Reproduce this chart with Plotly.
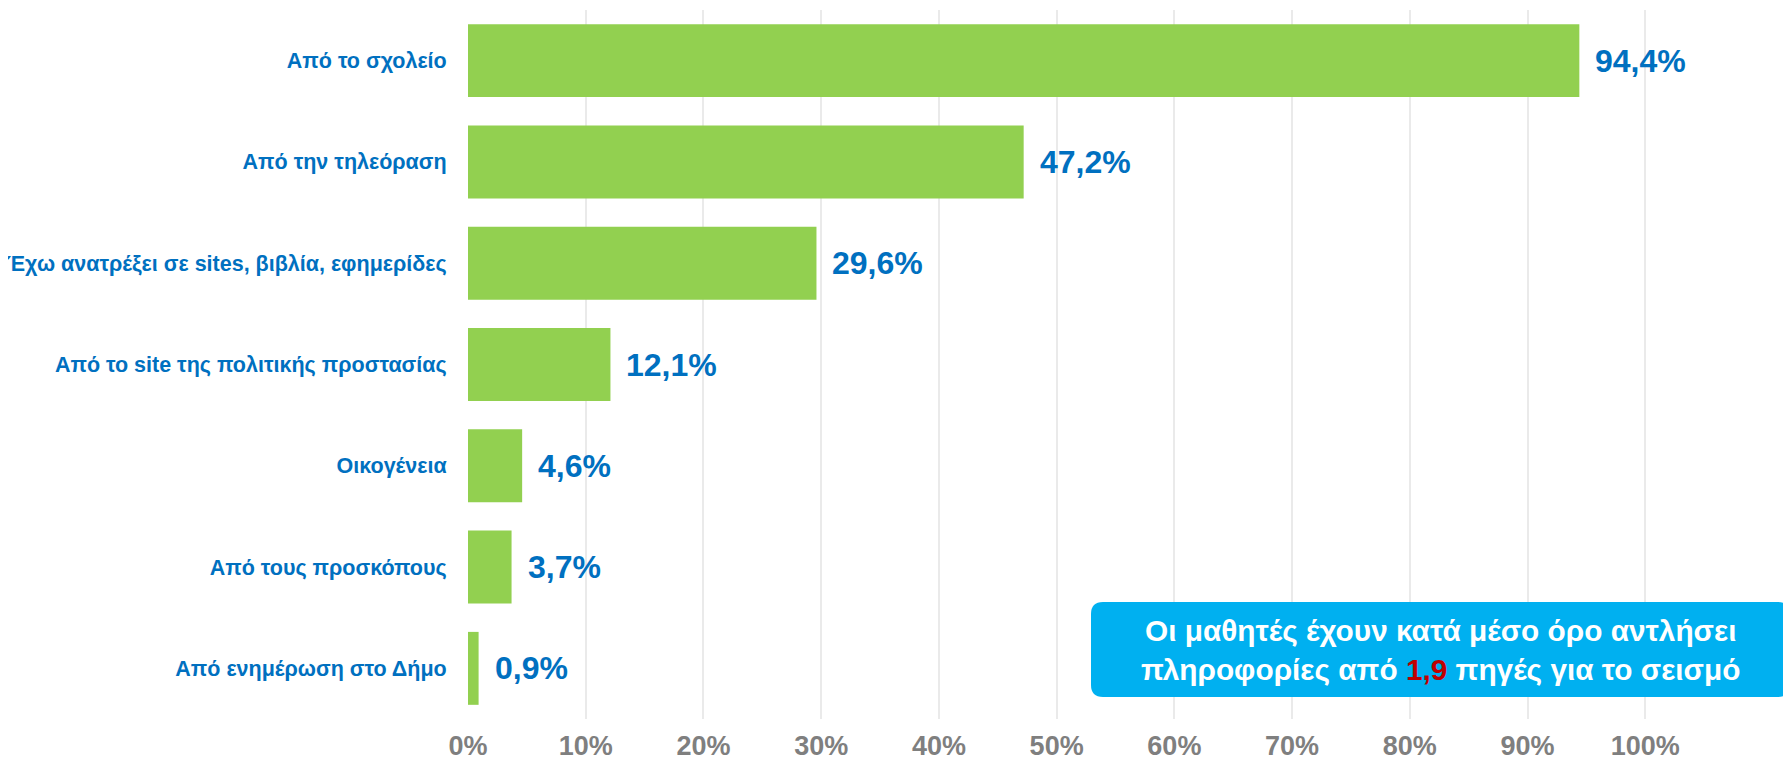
import plotly.graph_objects as go

categories = [
    "Από το σχολείο",
    "Από την τηλεόραση",
    "Έχω ανατρέξει σε sites, βιβλία, εφημερίδες",
    "Από το site της πολιτικής προστασίας",
    "Οικογένεια",
    "Από τους προσκόπους",
    "Από ενημέρωση στο Δήμο",
]
values = [94.4, 47.2, 29.6, 12.1, 4.6, 3.7, 0.9]
tick_vals = [0, 0.1, 0.2, 0.3, 0.4, 0.5, 0.6, 0.7, 0.8, 0.9, 1.0]
tick_text = ["0%", "10%", "20%", "30%", "40%", "50%", "60%", "70%", "80%", "90%", "100%"]
note_text = ("Οι μαθητές έχουν κατά μέσο όρο αντλήσει<br>πληροφορίες από "
             "<span style='color:#C00000'>1,9</span> πηγές για το σεισμό")

BLUE = "#0070C0"
GREEN = "#92D050"
FONT = "Liberation Sans, Arial, sans-serif"

# page body has an 8px margin, so the figure is offset by 8px
OFF = 8
W, H = 1791 - OFF, 762 - OFF
ML, MR, MT, MB = 460, 28, 2, 43

fig = go.Figure()
fig.add_trace(go.Bar(
    x=[v / 100 for v in values],
    y=categories,
    orientation="h",
    marker=dict(color=GREEN, line=dict(width=0)),
    width=0.72,
    hoverinfo="x+y",
))

for c, v in zip(categories, values):
    fig.add_annotation(
        x=v / 100, y=c, xref="x", yref="y",
        text=f"{v:.1f}".replace(".", ",") + "%",
        showarrow=False, xanchor="left", yanchor="middle", xshift=14,
        font=dict(family=FONT, size=32, color=BLUE, weight="bold"),
    )

# rounded callout box (figure pixel coords -> paper)
pw = W - ML - MR
ph = H - MT - MB
bx0, bx1, by0, by1 = 1091 - OFF, 1790 - OFF, 602 - OFF, 697 - OFF
x0 = (bx0 - ML) / pw
x1 = (bx1 - ML) / pw
y1 = (H - MB - by0) / ph
y0 = (H - MB - by1) / ph
rx = 12 / pw
ry = 12 / ph
path = (f"M {x0+rx},{y1} L {x1-rx},{y1} Q {x1},{y1} {x1},{y1-ry} "
        f"L {x1},{y0+ry} Q {x1},{y0} {x1-rx},{y0} L {x0+rx},{y0} "
        f"Q {x0},{y0} {x0},{y0+ry} L {x0},{y1-ry} Q {x0},{y1} {x0+rx},{y1} Z")
fig.add_shape(type="path", path=path, xref="paper", yref="paper",
              fillcolor="#00B0F0", line=dict(width=0), layer="above")
fig.add_annotation(
    x=(x0 + x1) / 2, y=(y0 + y1) / 2, xref="paper", yref="paper",
    text=note_text, showarrow=False, xanchor="center", yanchor="middle",
    align="center",
    font=dict(family=FONT, size=29.8, color="white", weight="bold"),
)

fig.update_layout(
    width=W, height=H,
    margin=dict(l=ML, r=MR, t=MT, b=MB, pad=0, autoexpand=False),
    plot_bgcolor="white", paper_bgcolor="white",
    showlegend=False,
    bargap=0.28,
    xaxis=dict(
        range=[0, 1.1], tickvals=tick_vals, ticktext=tick_text,
        showgrid=True, gridcolor="#EAEAEA", gridwidth=2,
        zeroline=False, showline=False, automargin=False,
        ticks="outside", ticklen=3, tickcolor="rgba(0,0,0,0)",
        tickfont=dict(family=FONT, size=27, color="#7F7F7F", weight="bold"),
    ),
    yaxis=dict(
        categoryorder="array", categoryarray=categories,
        range=[6.5, -0.5], showgrid=False, zeroline=False, showline=False,
        automargin=False,
        ticks="outside", ticklen=16, tickcolor="rgba(0,0,0,0)",
        tickfont=dict(family=FONT, size=21.5, color=BLUE, weight="bold"),
    ),
)

fig.write_html("out.html")
